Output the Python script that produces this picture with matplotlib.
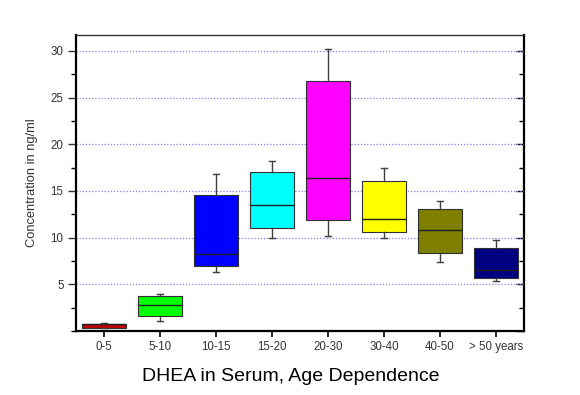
import numpy as np
import matplotlib
matplotlib.use("Agg")
import matplotlib.pyplot as plt
from matplotlib.ticker import MultipleLocator

plt.rcParams['font.family'] = ['Liberation Sans', 'DejaVu Sans']

# box plot values (ng/ml)
groups = ["0-5", "5-10", "10-15", "15-20", "20-30", "30-40", "40-50", "> 50 years"]
whislo = [0.30, 1.07, 6.36, 10.0, 10.2, 9.96, 7.39, 5.36]
q1 = [0.30, 1.60, 6.93, 11.07, 11.93, 10.57, 8.39, 5.71]
med = [0.74, 2.75, 8.21, 13.5, 16.43, 12.04, 10.86, 6.54]
q3 = [0.78, 3.70, 14.57, 17.0, 26.75, 16.07, 13.07, 8.86]
whishi = [0.88, 4.0, 16.8, 18.2, 30.25, 17.43, 13.96, 9.75]
box_colors = ["#c00000", "#00ff00", "#0000ff", "#00ffff",
              "#ff00ff", "#ffff00", "#808000", "#000080"]

stats = []
for i in range(len(groups)):
    stats.append(dict(label=groups[i], whislo=whislo[i], q1=q1[i], med=med[i],
                      q3=q3[i], whishi=whishi[i], fliers=[]))

fig = plt.figure(figsize=(5.8, 3.95), dpi=100)
ax = fig.add_axes([76 / 580, 64 / 395, 448 / 580, 296 / 395])

bp = ax.bxp(stats, positions=np.arange(1, len(groups) + 1), widths=0.78,
            patch_artist=True, showfliers=False, capwidths=0.1,
            boxprops=dict(edgecolor="#303030", linewidth=0.8),
            whiskerprops=dict(color="#404040", linewidth=1.0),
            capprops=dict(color="#404040", linewidth=1.0),
            medianprops=dict(color="#202020", linewidth=1.0))
for patch, c in zip(bp["boxes"], box_colors):
    patch.set_facecolor(c)

ax.set_xlim(0.5, 8.5)
ax.set_ylim(0, 31.7)
ax.yaxis.set_minor_locator(MultipleLocator(2.5))
ax.set_yticks([5, 10, 15, 20, 25, 30])
ax.yaxis.grid(True, color="#8080ff", linestyle=(0, (1, 1.5)), linewidth=0.9)
ax.set_axisbelow(True)

ax.tick_params(axis="y", which="major", direction="out", length=5.5, width=1,
               labelsize=8.3, pad=3.5, colors="#333333", labelcolor="#333333")
ax.tick_params(axis="y", which="minor", direction="out", length=3.5, width=1)
ax.tick_params(axis="x", direction="out", length=4, width=1.2,
               labelsize=8.3, labelcolor="#333333")

right = ax.secondary_yaxis("right")
right.yaxis.set_major_locator(MultipleLocator(5))
right.yaxis.set_minor_locator(MultipleLocator(2.5))
right.tick_params(which="major", direction="in", length=5.5, width=1, labelright=False)
right.tick_params(which="minor", direction="in", length=3.5, width=1)
right.spines["right"].set_linewidth(1.6)

for side in ["left", "bottom"]:
    ax.spines[side].set_linewidth(1.6)
ax.spines["top"].set_linewidth(1.0)
ax.spines["top"].set_color("#333333")
ax.spines["right"].set_visible(False)

ax.set_ylabel("Concentration in ng/ml", fontsize=9.3, color="#333333")
ax.yaxis.set_label_coords(-0.085, 0.5)
ax.set_xlabel("DHEA in Serum, Age Dependence", fontsize=14)
ax.xaxis.set_label_coords(0.48, -0.125)

fig.savefig("out.png", dpi=100)
